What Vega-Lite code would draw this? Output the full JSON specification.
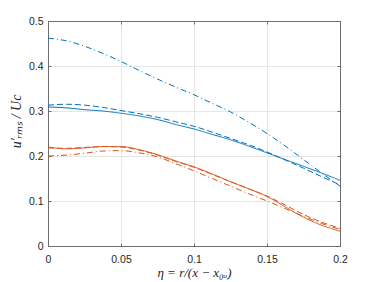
{
  "$schema": "https://vega.github.io/schema/vega-lite/v6.json",
  "autosize": {"type": "none"},
  "width": 292,
  "height": 225,
  "padding": {"left": 48, "top": 21, "right": 36, "bottom": 36},
  "background": "white",
  "config": {
    "view": {"stroke": null},
    "axis": {
      "labelFont": "Liberation Sans",
      "labelFontSize": 10.5,
      "labelColor": "#262626",
      "domainColor": "#6e6e6e",
      "tickColor": "#6e6e6e",
      "gridColor": "#e6e6e6",
      "titleColor": "#262626"
    }
  },
  "data": {
    "values": [
      {"x": 0, "Bdd": 0.462, "Bs": 0.309, "Bd": 0.313, "Os": 0.220, "Od": 0.218, "Odd": 0.200},
      {"x": 0.0125, "Bdd": 0.456, "Bs": 0.307, "Bd": 0.315, "Os": 0.216, "Od": 0.217, "Odd": 0.202},
      {"x": 0.025, "Bdd": 0.444, "Bs": 0.303, "Bd": 0.313, "Os": 0.218, "Od": 0.219, "Odd": 0.206},
      {"x": 0.0375, "Bdd": 0.428, "Bs": 0.300, "Bd": 0.308, "Os": 0.221, "Od": 0.221, "Odd": 0.211},
      {"x": 0.05, "Bdd": 0.410, "Bs": 0.295, "Bd": 0.301, "Os": 0.221, "Od": 0.220, "Odd": 0.212},
      {"x": 0.0625, "Bdd": 0.390, "Bs": 0.289, "Bd": 0.294, "Os": 0.214, "Od": 0.213, "Odd": 0.207},
      {"x": 0.075, "Bdd": 0.371, "Bs": 0.281, "Bd": 0.286, "Os": 0.203, "Od": 0.202, "Odd": 0.198},
      {"x": 0.0875, "Bdd": 0.353, "Bs": 0.270, "Bd": 0.276, "Os": 0.189, "Od": 0.188, "Odd": 0.183},
      {"x": 0.1, "Bdd": 0.336, "Bs": 0.260, "Bd": 0.266, "Os": 0.176, "Od": 0.175, "Odd": 0.167},
      {"x": 0.1125, "Bdd": 0.317, "Bs": 0.248, "Bd": 0.253, "Os": 0.160, "Od": 0.159, "Odd": 0.150},
      {"x": 0.125, "Bdd": 0.298, "Bs": 0.236, "Bd": 0.239, "Os": 0.143, "Od": 0.143, "Odd": 0.133},
      {"x": 0.1375, "Bdd": 0.275, "Bs": 0.222, "Bd": 0.225, "Os": 0.127, "Od": 0.127, "Odd": 0.116},
      {"x": 0.15, "Bdd": 0.250, "Bs": 0.207, "Bd": 0.209, "Os": 0.110, "Od": 0.111, "Odd": 0.100},
      {"x": 0.1625, "Bdd": 0.222, "Bs": 0.192, "Bd": 0.191, "Os": 0.087, "Od": 0.091, "Odd": 0.083},
      {"x": 0.175, "Bdd": 0.192, "Bs": 0.177, "Bd": 0.173, "Os": 0.064, "Od": 0.070, "Odd": 0.066},
      {"x": 0.1875, "Bdd": 0.162, "Bs": 0.162, "Bd": 0.154, "Os": 0.046, "Od": 0.053, "Odd": 0.050},
      {"x": 0.2, "Bdd": 0.133, "Bs": 0.146, "Bd": 0.136, "Os": 0.033, "Od": 0.039, "Odd": 0.037}
    ]
  },
  "transform": [{"fold": ["Bdd", "Bs", "Bd", "Os", "Od", "Odd"], "as": ["series", "y"]}],
  "resolve": {"axis": {"x": "independent", "y": "independent"}},
  "layer": [
    {
      "mark": {"type": "line", "strokeWidth": 1, "interpolate": "monotone"},
      "encoding": {
        "x": {"field": "x", "type": "quantitative",
          "scale": {"domain": [0, 0.2], "nice": false, "zero": false},
          "axis": {"values": [0, 0.05, 0.1, 0.15, 0.2], "format": "~g", "tickSize": -3,
            "labelPadding": 11, "labelFlush": false,
            "title": "η = r/(x − x₀ᵤ)", "titleFont": "Liberation Serif", "titleFontStyle": "italic",
            "titleFontWeight": "normal", "titleFontSize": 13, "titleBaseline": "alphabetic", "titleY": 30}},
        "y": {"field": "y", "type": "quantitative",
          "scale": {"domain": [0, 0.5], "nice": false},
          "axis": {"values": [0, 0.1, 0.2, 0.3, 0.4, 0.5], "format": "~g", "tickSize": -3,
            "labelPadding": 8, "labelFlush": false,
            "title": "u′ᵣₘₛ / Uc", "titleFont": "Liberation Serif", "titleFontStyle": "italic",
            "titleFontWeight": "normal", "titleFontSize": 14, "titleAngle": -90,
            "titleBaseline": "alphabetic", "titleX": -28, "titleY": 100}},
        "color": {"field": "series", "type": "nominal", "legend": null,
          "scale": {"domain": ["Bdd", "Bs", "Bd", "Os", "Od", "Odd"],
            "range": ["#0072BD", "#0072BD", "#0072BD", "#D95319", "#D95319", "#D95319"]}},
        "strokeDash": {"field": "series", "type": "nominal", "legend": null,
          "scale": {"domain": ["Bdd", "Bs", "Bd", "Os", "Od", "Odd"],
            "range": [[6, 3, 1, 3], [1, 0], [6, 3], [1, 0], [6, 3], [6, 3, 1, 3]]}}
      }
    },
    {
      "mark": {"type": "line", "opacity": 0},
      "encoding": {
        "x": {"field": "x", "type": "quantitative",
          "scale": {"domain": [0, 0.2], "nice": false, "zero": false},
          "axis": {"orient": "top", "values": [0, 0.05, 0.1, 0.15, 0.2], "labels": false, "grid": false, "tickSize": -3, "title": null}},
        "y": {"field": "y", "type": "quantitative",
          "scale": {"domain": [0, 0.5], "nice": false},
          "axis": {"orient": "right", "values": [0, 0.1, 0.2, 0.3, 0.4, 0.5], "labels": false, "grid": false, "tickSize": -3, "title": null}},
        "detail": {"field": "series", "type": "nominal"}
      }
    }
  ]
}
